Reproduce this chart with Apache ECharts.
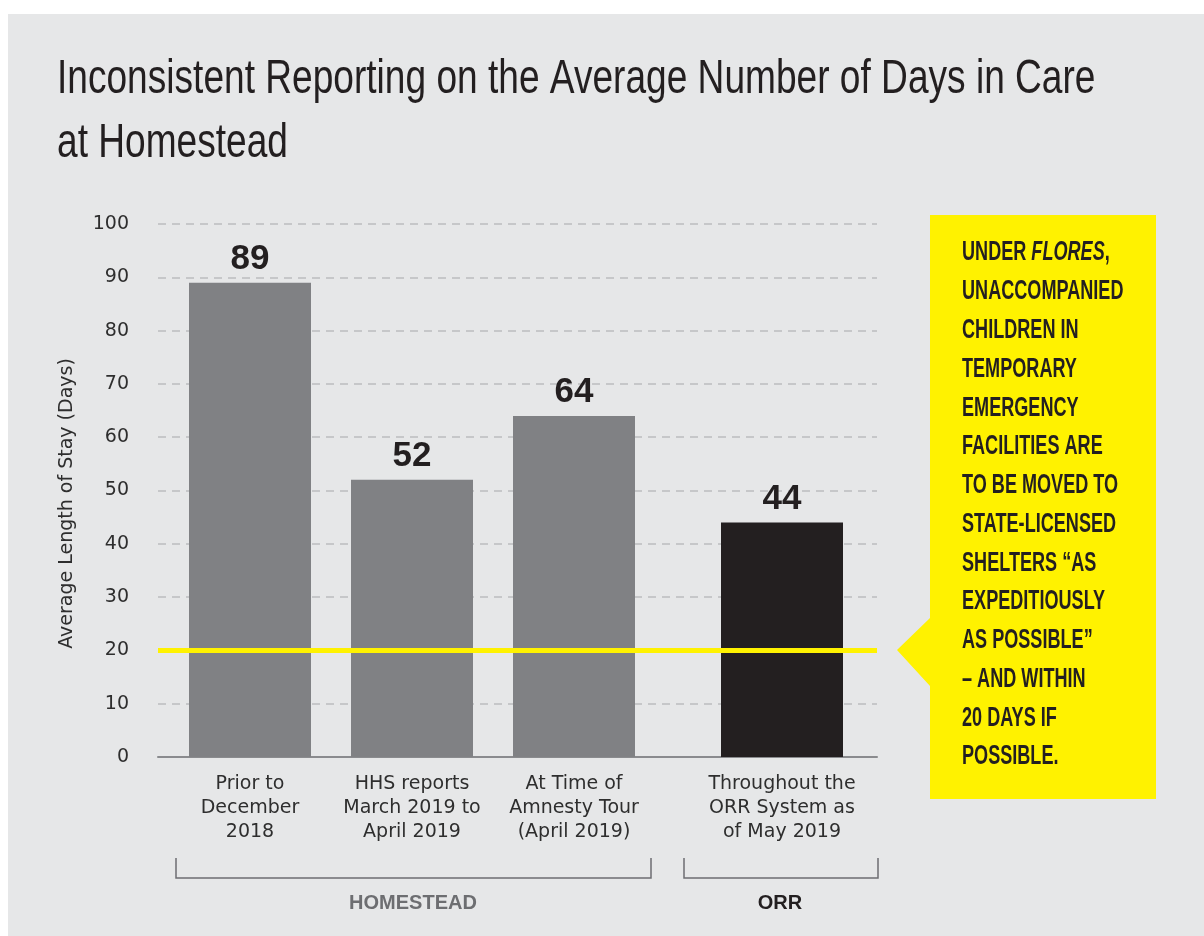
<!DOCTYPE html>
<html>
<head>
<meta charset="utf-8">
<script src="https://cdn.jsdelivr.net/npm/echarts@6/dist/echarts.min.js"></script>
<style>
  html, body { margin: 0; padding: 0; background: #ffffff; }
  #chart { width: 1204px; height: 936px; }
</style>
</head>
<body>
<div id="chart"></div>
<script>
// ---- data ----
const titleLines = ['Inconsistent Reporting on the Average Number of Days in Care', 'at Homestead'];
const homesteadCategories = ['Prior to\nDecember\n2018', 'HHS reports\nMarch 2019 to\nApril 2019', 'At Time of\nAmnesty Tour\n(April 2019)'];
const homesteadValues = [89, 52, 64];
const orrCategories = ['Throughout the\nORR System as\nof May 2019'];
const orrValues = [44];
const groupLabels = ['HOMESTEAD', 'ORR'];
const yAxisName = 'Average Length of Stay (Days)';
const yMin = 0, yMax = 100, yInterval = 10;
const floresLimitDays = 20;
const calloutLines = [
  ['UNDER ', 'FLORES', ','],
  ['UNACCOMPANIED'],
  ['CHILDREN IN'],
  ['TEMPORARY'],
  ['EMERGENCY'],
  ['FACILITIES ARE'],
  ['TO BE MOVED TO'],
  ['STATE-LICENSED'],
  ['SHELTERS \u201cAS'],
  ['EXPEDITIOUSLY'],
  ['AS POSSIBLE\u201d'],
  ['\u2013 AND WITHIN'],
  ['20 DAYS IF'],
  ['POSSIBLE.']
];

// ---- styles / layout ----
const PANEL = '#e6e7e8';
const DARK = '#231f20';
const BAR_GRAY = '#808184';
const YELLOW = '#fff200';
const REG = '"DejaVu Sans", sans-serif';
const LIB = '"Liberation Sans", Arial, sans-serif';
const plotTop = 224, plotBottom = 936 - 757;

const chart = echarts.init(document.getElementById('chart'), null, { renderer: 'canvas' });

const hiddenY = (gi) => ({ type: 'value', gridIndex: gi, min: yMin, max: yMax, interval: yInterval, show: false });
const catAxis = (gi, data) => ({
  type: 'category', gridIndex: gi, data: data,
  axisLine: { show: false }, axisTick: { show: false },
  axisLabel: { margin: 15, color: '#2e2e2e', fontFamily: REG, fontSize: 19, lineHeight: 24, align: 'center', interval: 0 }
});
const valueLabel = {
  show: true, position: 'top', distance: 6,
  fontFamily: LIB, fontWeight: 'bold', fontSize: 35, color: DARK
};

// title (condensed look via horizontal scaling)
const titleGraphics = titleLines.map((t, i) => ({
  type: 'text', x: 57, y: 79.5 + i * 64, scaleX: 0.757,
  style: { text: t, fontFamily: LIB, fontWeight: 'normal', fontSize: 49, fill: DARK, align: 'left', verticalAlign: 'middle' },
  z: 20
}));

// callout text graphic elements
const calloutGraphics = calloutLines.map((parts, i) => {
  let text = '';
  parts.forEach((p) => {
    const style = (p === 'FLORES') ? 'i' : 'b';
    text += '{' + style + '|' + p + '}';
  });
  return {
    type: 'text', x: 962, y: 253 + i * 38.77, scaleX: 0.67,
    style: {
      text: text, align: 'left', verticalAlign: 'middle',
      rich: {
        b: { fontFamily: LIB, fontWeight: 'bold', fontSize: 27, fill: DARK },
        i: { fontFamily: LIB, fontWeight: 'bold', fontStyle: 'italic', fontSize: 27, fill: DARK }
      }
    },
    z: 20
  };
});

const option = {
  animation: false,
  backgroundColor: '#ffffff',
  grid: [
    { left: 158, right: 1204 - 877, top: plotTop, bottom: plotBottom, containLabel: false },
    { left: 169, width: 486, top: plotTop, bottom: plotBottom, containLabel: false },
    { left: 701, width: 162, top: plotTop, bottom: plotBottom, containLabel: false }
  ],
  xAxis: [
    { type: 'category', gridIndex: 0, data: [''], axisTick: { show: false }, axisLabel: { show: false },
      axisLine: { show: true, lineStyle: { color: '#8a8b8e', width: 2 } } },
    catAxis(1, homesteadCategories),
    catAxis(2, orrCategories)
  ],
  yAxis: [
    { type: 'value', gridIndex: 0, min: yMin, max: yMax, interval: yInterval,
      name: yAxisName, nameLocation: 'middle', nameRotate: 90, nameGap: 81,
      nameTextStyle: { fontFamily: REG, fontSize: 19, color: '#2e2e2e', padding: [0, 26, 0, 0] },
      axisLine: { show: false }, axisTick: { show: false },
      axisLabel: { margin: 29, fontFamily: REG, fontSize: 19, color: '#2e2e2e' },
      splitLine: { show: true, lineStyle: { color: '#c6c7c9', width: 2, type: [8, 6] } } },
    hiddenY(1),
    hiddenY(2)
  ],
  series: [
    { type: 'bar', xAxisIndex: 1, yAxisIndex: 1, data: homesteadValues, barWidth: 122,
      itemStyle: { color: BAR_GRAY }, label: valueLabel, z: 3 },
    { type: 'bar', xAxisIndex: 2, yAxisIndex: 2, data: orrValues, barWidth: 122,
      itemStyle: { color: DARK }, label: valueLabel, z: 3 },
    { type: 'line', xAxisIndex: 0, yAxisIndex: 0, data: [], z: 6,
      markLine: { silent: true, symbol: ['none', 'none'], label: { show: false },
        lineStyle: { color: YELLOW, width: 5, type: 'solid' },
        data: [{ yAxis: floresLimitDays }] } }
  ],
  graphic: [
    { type: 'rect', shape: { x: 8, y: 14, width: 1196, height: 922 }, style: { fill: PANEL }, z: -10, silent: true },
    // callout box with pointer
    { type: 'polygon', shape: { points: [[930, 215], [1156, 215], [1156, 799], [930, 799], [930, 686], [897, 650], [930, 618]] },
      style: { fill: YELLOW }, z: 10, silent: true },
    // group brackets
    { type: 'polyline', shape: { points: [[176, 858], [176, 878], [651, 878], [651, 858]] },
      style: { stroke: '#6d6e71', lineWidth: 1.5, fill: null }, z: 10, silent: true },
    { type: 'polyline', shape: { points: [[684, 858], [684, 878], [878, 878], [878, 858]] },
      style: { stroke: '#6d6e71', lineWidth: 1.5, fill: null }, z: 10, silent: true },
    { type: 'text', x: 413, y: 903, style: { text: groupLabels[0], fontFamily: LIB, fontWeight: 'bold', fontSize: 20, fill: '#6d6e71', align: 'center', verticalAlign: 'middle' }, z: 10 },
    { type: 'text', x: 780, y: 903, style: { text: groupLabels[1], fontFamily: LIB, fontWeight: 'bold', fontSize: 20, fill: DARK, align: 'center', verticalAlign: 'middle' }, z: 10 }
  ].concat(titleGraphics, calloutGraphics)
};

chart.setOption(option);
</script>
</body>
</html>
